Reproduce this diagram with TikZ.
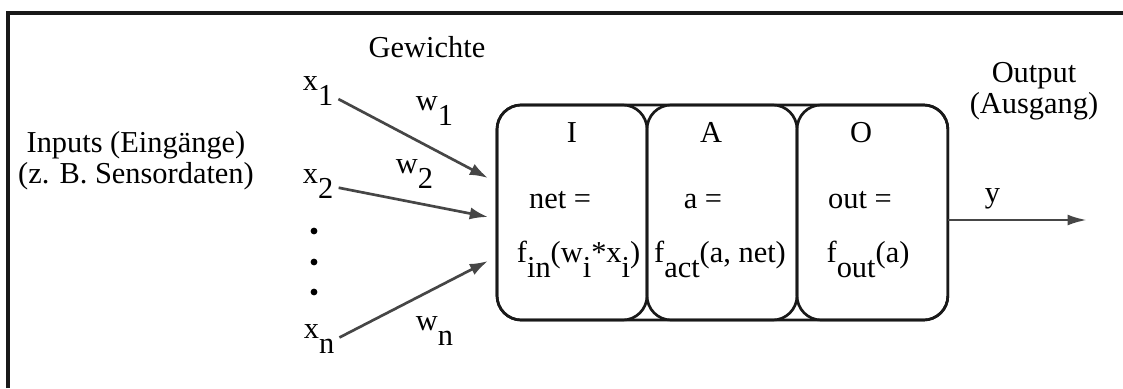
\documentclass[tikz,border=0pt]{standalone}
\usepackage{fontspec}
\setmainfont{Liberation Serif}
\usepackage{tikz}
\usetikzlibrary{arrows.meta,positioning,fit}
\definecolor{lineblack}{RGB}{25,25,25}
\definecolor{arrowgray}{RGB}{70,70,70}
\newcommand{\lowtxt}[1]{\raisebox{-0.5em}{#1}}

\begin{document}
\begin{tikzpicture}[x=0.411pt, y=-0.411pt, font=\fontsize{12.5}{12.5}\selectfont,
    cellbox/.style={draw=lineblack, line width=1.1pt, rounded corners=10pt,
      minimum width=61.65pt, minimum height=88.4pt, inner sep=0pt, outer sep=0pt},
    lbl/.style={anchor=base, inner sep=1pt},
    wline/.style={-{Latex[length=7.5pt,width=5pt]}, line width=1.1pt, arrowgray, shorten <=1pt}]

  \useasboundingbox (0,0) rectangle (1123,388);
  \draw[line width=1.3pt, lineblack] (8,388) -- (8,13) -- (1123,13);

  % the neuron: input, activation and output function
  \node[cellbox] (cellI) at (572,212.5) {};
  \node[cellbox, right=0pt of cellI] (cellA) {};
  \node[cellbox, right=0pt of cellA, minimum width=62pt] (cellO) {};
  \node[draw=lineblack, line width=1.1pt, rounded corners=10pt, inner sep=0pt,
        fit=(cellI)(cellO)] (neuron) {};

  \node[lbl] (tI) at (572,142) {I};
  \node[lbl] (netI) at (560,208) {net =};
  \node[lbl, anchor=base west] (fin) at (514,262) {f\lowtxt{in}(w\lowtxt{i}*x\lowtxt{i})};
  \node[lbl] (tA) at (711,142) {A};
  \node[lbl] (aA) at (703,208) {a =};
  \node[lbl] (fact) at (720,262) {f\lowtxt{act}(a, net)};
  \node[lbl] (tO) at (861,142) {O};
  \node[lbl] (outO) at (860,208) {out =};
  \node[lbl] (fout) at (868,262) {f\lowtxt{out}(a)};

  % inputs and weights
  \node[lbl, align=center] (inputs) at (136,183) {Inputs (Eingänge)\\(z. B. Sensordaten)};
  \node[lbl] (gew) at (427,57) {Gewichte};

  \node[lbl, anchor=base west] (x1) at (300,90) {x\lowtxt{1}};
  \node[lbl, anchor=base west] (x2) at (300,183) {x\lowtxt{2}};
  \node[lbl, anchor=base west] (xn) at (301,338) {x\lowtxt{n}};
  \foreach \yy in {231,262,292}
    \fill (314,\yy) circle (1.4pt);

  \node[lbl, anchor=base west] (w1) at (413,110) {w\lowtxt{1}};
  \node[lbl, anchor=base west] (w2) at (393,173) {w\lowtxt{2}};
  \node[lbl, anchor=base west] (wn) at (413,330) {w\lowtxt{n}};

  \coordinate (in1) at (488,178);
  \coordinate (in2) at (488,217);
  \coordinate (inn) at (488,261);
  \draw[wline] ([yshift=-3pt]x1.east) -- (in1);
  \draw[wline] ([yshift=-1.5pt]x2.east) -- (in2);
  \draw[wline] (xn.east) -- (inn);

  % output
  \node[lbl, align=center] (outp) at (1034,113) {Output\\(Ausgang)};
  \coordinate (yend) at (1087,220);
  \draw[wline, -{Latex[length=8pt,width=4.5pt]}, shorten <=0pt]
    (cellO.east |- yend) -- node[pos=0.32, above=3pt, inner sep=1pt, text=black] {y} (yend);

\end{tikzpicture}
\end{document}
